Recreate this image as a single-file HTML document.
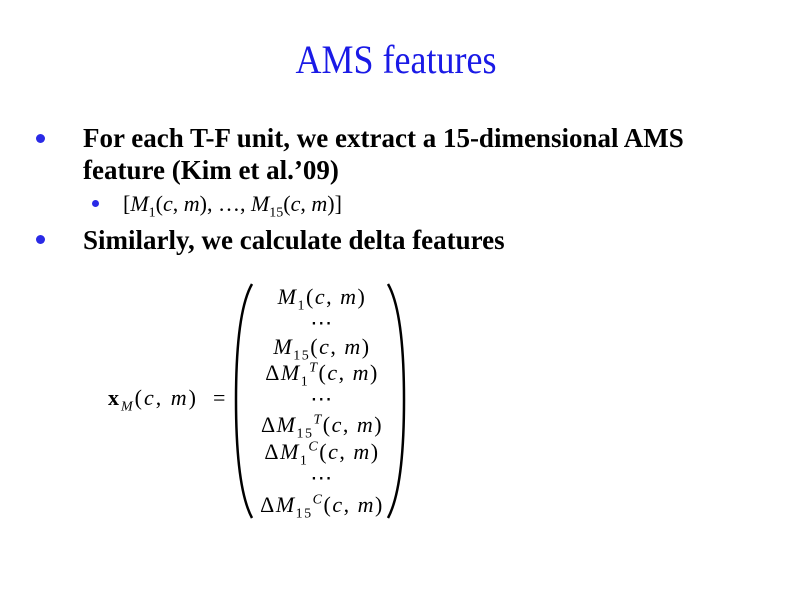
<!DOCTYPE html>
<html><head><meta charset="utf-8"><style>
body{margin:0;width:800px;height:599px;background:#fff;position:relative;overflow:hidden;font-family:"Liberation Serif",serif;color:#000}
.a{position:absolute;white-space:nowrap}
.t{left:0;width:792px;text-align:center;top:36px;font-size:36px;color:#1a1ae6;transform:scaleY(1.12);transform-origin:center top}
.b{font-weight:bold;font-size:27px}
.dot{position:absolute;width:9px;height:9px;border-radius:50%;background:#2a2ae6}
.m{font-size:22px;text-align:center;width:220px;left:212px;letter-spacing:1.5px}
i{font-style:italic}
sub,sup{font-size:14px;line-height:0}
</style></head><body>
<div class="a t">AMS features</div>
<div class="dot" style="left:36px;top:134px"></div>
<div class="a b" style="left:83px;top:123px">For each T-F unit, we extract a 15-dimensional AMS</div>
<div class="a b" style="left:83px;top:155px">feature (Kim et al.’09)</div>
<div class="dot" style="left:92px;top:200px;width:7px;height:7px"></div>
<div class="a" style="left:123px;top:191px;font-size:22px">[<i>M</i><sub>1</sub>(<i>c</i>, <i>m</i>), …, <i>M</i><sub>15</sub>(<i>c</i>, <i>m</i>)]</div>
<div class="dot" style="left:36px;top:235px"></div>
<div class="a b" style="left:83px;top:225px">Similarly, we calculate delta features</div>

<div class="a" style="left:108px;top:385px;font-size:22px;letter-spacing:2px"><b>x</b><sub><i>M</i></sub>(<i>c</i>, <i>m</i>) &nbsp;=</div>
<svg class="a" style="left:230px;top:282px" width="180" height="240">
<path d="M22 2 Q6 30 6 118 Q6 206 22 236" stroke="#000" stroke-width="2.5" fill="none"/>
<path d="M158 2 Q174 30 174 118 Q174 206 158 236" stroke="#000" stroke-width="2.5" fill="none"/>
</svg>
<div class="a m" style="top:284px"><i>M</i><sub>1</sub>(<i>c</i>, <i>m</i>)</div>
<div class="a m" style="top:310px">⋯</div>
<div class="a m" style="top:334px"><i>M</i><sub>15</sub>(<i>c</i>, <i>m</i>)</div>
<div class="a m" style="top:360px">Δ<i>M</i><sub>1</sub><sup><i>T</i></sup>(<i>c</i>, <i>m</i>)</div>
<div class="a m" style="top:386px">⋯</div>
<div class="a m" style="top:412px">Δ<i>M</i><sub>15</sub><sup><i>T</i></sup>(<i>c</i>, <i>m</i>)</div>
<div class="a m" style="top:439px">Δ<i>M</i><sub>1</sub><sup><i>C</i></sup>(<i>c</i>, <i>m</i>)</div>
<div class="a m" style="top:465px">⋯</div>
<div class="a m" style="top:492px">Δ<i>M</i><sub>15</sub><sup><i>C</i></sup>(<i>c</i>, <i>m</i>)</div>
</body></html>
